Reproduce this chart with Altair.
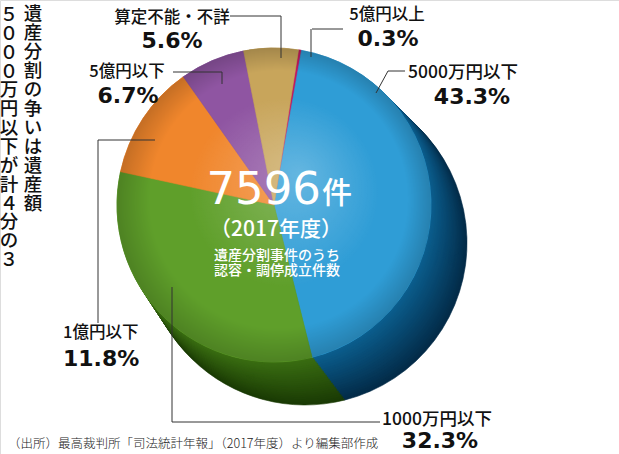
import math
import altair as alt
import pandas as pd

# ---- data ----
categories = ["5億円以上", "5000万円以下", "1000万円以下", "1億円以下", "5億円以下", "算定不能・不詳"]
shares = [0.3, 43.3, 32.3, 11.8, 6.7, 5.6]
total_cases = "7596"
total_unit = "件"
year_label = "（2017年度）"
center_note = ["遺産分割事件のうち", "認容・調停成立件数"]
title_col1 = "遺産分割の争いは遺産額"
title_col2 = "５０００万円以下が計４分の３"
source_note = "（出所）最高裁判所「司法統計年報」（2017年度）より編集部作成"

# ---- styles ----
face_colors = ["#c2185e", "#2f9dd6", "#5f9f2a", "#f0862c", "#8f55a2", "#c8a55b"]
side_near = ["#860f42", "#0b5f8f", "#3a6e12", "#b65c14", "#633775", "#8f7438"]
side_far = ["#4c0625", "#032b48", "#1a3a04", "#6c3306", "#3a1f47", "#5a4620"]

W, H = 619, 454
CX, CY, R = 274, 205, 157
DX, DY, DR = 31, 38, 5
START = math.radians(9)

df = pd.DataFrame({"category": categories, "share": shares, "order": list(range(len(categories)))})


def mix(c1, c2, t):
    a = [int(c1[i:i + 2], 16) for i in (1, 3, 5)]
    b = [int(c2[i:i + 2], 16) for i in (1, 3, 5)]
    return "#" + "".join(f"{round(x + (y - x) * t):02x}" for x, y in zip(a, b))


def pie(cx, cy, r, colors):
    sc = alt.Scale(domain=categories, range=colors)
    return alt.Chart(df).mark_arc(radius=r, strokeWidth=0.6).encode(
        theta=alt.Theta("share:Q", stack=True,
                        scale=alt.Scale(range=[START, START + 2 * math.pi])),
        color=alt.Color("category:N", scale=sc, legend=None),
        stroke=alt.Stroke("category:N", scale=sc, legend=None),
        order=alt.Order("order:Q"),
        x=alt.value(cx), y=alt.value(cy),
    )


layers = []
N = 22
for i in range(N, -1, -1):
    t = i / N
    cols = [mix(n, f, t) for n, f in zip(side_near, side_far)]
    layers.append(pie(CX + DX * t, CY + DY * t, R + DR * t, cols))

layers.append(pie(CX, CY, R, face_colors))

one = pd.DataFrame({"k": [1]})
shade = alt.RadialGradient(
    gradient="radial", x1=0.58, y1=0.40, r1=0, x2=0.5, y2=0.5, r2=0.5,
    stops=[
        alt.GradientStop(offset=0, color="rgba(255,255,255,0.26)"),
        alt.GradientStop(offset=0.6, color="rgba(255,255,255,0.0)"),
        alt.GradientStop(offset=0.82, color="rgba(0,0,0,0.0)"),
        alt.GradientStop(offset=1, color="rgba(0,0,0,0.18)"),
    ],
)
layers.append(
    alt.Chart(one).mark_arc(radius=R, theta=0, theta2=2 * math.pi, fill=shade).encode(
        x=alt.value(CX), y=alt.value(CY)
    )
)

# ---- leader lines ----
segments = [
    (230, 281, 16, 16), (281, 281, 16, 58),
    (312, 343, 29, 29), (311, 311, 29, 57),
    (173, 222, 72, 72), (222, 222, 72, 84),
    (388, 405, 71, 71), (388, 376, 71, 93),
    (98, 155, 140, 140), (98, 98, 140, 323),
    (172, 380, 422, 422), (172, 172, 287, 422),
]
for x1, x2, y1, y2 in segments:
    layers.append(
        alt.Chart(one).mark_rule(color="#333333", strokeWidth=1).encode(
            x=alt.value(x1), x2=alt.value(x2), y=alt.value(y1), y2=alt.value(y2)
        )
    )

JP = "Noto Sans CJK JP"


def text(s, x, y, size, align="center", weight="normal", color="#111111",
         font=JP, baseline="middle"):
    return alt.Chart(one).mark_text(fontSize=size, align=align, fontWeight=weight,
                                    color=color, font=font, baseline=baseline).encode(
        x=alt.value(x), y=alt.value(y), text=alt.value(s)
    )


def pct(v):
    return f"{v}%"


label_pos = {
    "算定不能・不詳": ((172, 18, "center"), (172, 41, "center")),
    "5億円以上": ((387, 15, "center"), (388, 39, "center")),
    "5億円以下": ((127, 72, "center"), (128, 96, "center")),
    "5000万円以下": ((408, 73, "left"), (472, 97, "center")),
    "1億円以下": ((63, 333, "left"), (63, 359, "left")),
    "1000万円以下": ((382, 420, "left"), (440, 441, "center")),
}
for cat, v in zip(categories, shares):
    (nx, ny, na), (px, py, pa) = label_pos[cat]
    size = 17.5 if "万" in cat else 16.5
    layers.append(text(cat, nx, ny, size, align=na, weight=500))
    layers.append(text(pct(v), px, py, 22, align=pa, weight="bold", font="DejaVu Sans"))

# center text
layers.append(text(total_cases, 321, 204, 45, align="right", color="white",
                   font="DejaVu Sans", baseline="alphabetic"))
layers.append(text(total_unit, 322, 203, 30, align="left", color="white",
                   weight=500, baseline="alphabetic"))
layers.append(text(year_label, 276, 230, 21, color="white", weight=500))
layers.append(text(center_note[0], 277, 256, 14, color="white", weight=500))
layers.append(text(center_note[1], 277, 271, 14, color="white", weight=500))

# vertical title (one character per mark)
vt = pd.DataFrame(
    [{"ch": c, "col": 0, "i": i} for i, c in enumerate(title_col1)]
    + [{"ch": c, "col": 1, "i": i} for i, c in enumerate(title_col2)]
)
layers.append(
    alt.Chart(vt).mark_text(fontSize=18.5, font=JP, fontWeight=500, color="#111111",
                            baseline="middle", align="center")
    .transform_calculate(
        px="datum.col == 0 ? 33 : 9",
        py="datum.col == 0 ? 14 + datum.i * 19.0 : 15 + datum.i * 18.85",
    )
    .encode(
        x=alt.X("px:Q", scale=None, axis=None),
        y=alt.Y("py:Q", scale=None, axis=None),
        text="ch:N",
    )
)

# source
layers.append(text(source_note, 8, 444, 12.5, align="left", color="#222222", weight=300))

chart = alt.layer(*layers).resolve_scale(
    color="independent", stroke="independent"
).properties(
    width=W, height=H, autosize=alt.AutoSizeParams(type="none"), padding=0
).configure_view(stroke=None).configure(background="white")

chart.save("out.html", embed_options={"renderer": "svg", "actions": False})
